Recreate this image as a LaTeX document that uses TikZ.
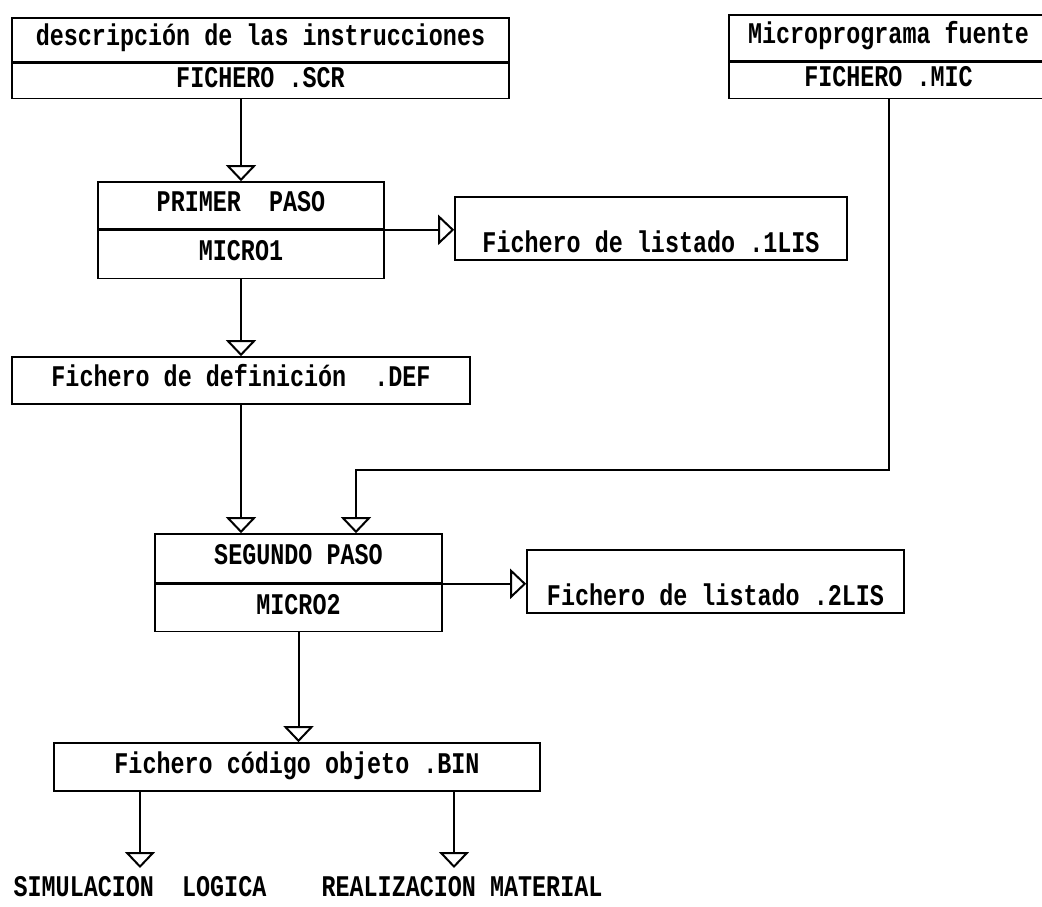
\documentclass[tikz,border=0pt]{standalone}
\usepackage{fontspec}
\setmainfont{Liberation Mono}[FakeStretch=0.78]
\usetikzlibrary{arrows.meta,positioning}

\begin{document}
\begin{tikzpicture}[
  x=1pt, y=-1pt,
  box/.style={draw, line width=1.6pt, inner sep=0pt, text height=17pt, text depth=5pt,
              font=\bfseries\fontsize{30}{32}\selectfont},
  lisbox/.style={box, minimum height=63pt, text height=47pt, text depth=0pt},
  lbl/.style={inner sep=0pt, outer ysep=9pt, anchor=north, text height=19pt, text depth=0pt,
              font=\bfseries\fontsize{30}{32}\selectfont},
  arr/.style={-{Triangle[open, width=30pt, length=16pt]}, line width=2pt}
]
  \useasboundingbox (0,0) rectangle (1042,907);
  % sources
  \node[box, minimum width=497pt, minimum height=44pt] (desc) at (260.5,40) {descripción de las instrucciones};
  \node[box, minimum width=497pt, minimum height=35pt, below=0pt of desc] (scr) {FICHERO .SCR};
  \node[box, minimum width=319pt, minimum height=46pt] (mprog) at (888.5,38) {Microprograma fuente};
  \node[box, minimum width=319pt, minimum height=36pt, below=0pt of mprog] (mic) {FICHERO .MIC};
  % first pass
  \node[box, minimum width=286pt, minimum height=47pt] (primer) at (241,205.5) {PRIMER\ \ PASO};
  \node[box, minimum width=286pt, minimum height=48pt, below=0pt of primer] (micro1) {MICRO1};
  \node[lisbox, minimum width=392pt] (lis1) at (651,228.5) {Fichero de listado .1LIS};
  \node[box, minimum width=458pt, minimum height=47pt] (def) at (241,380.5) {Fichero de definición\ \ .DEF};
  % second pass
  \node[box, minimum width=287pt, minimum height=49pt] (segundo) at (298.5,558.5) {SEGUNDO PASO};
  \node[box, minimum width=287pt, minimum height=47pt, below=0pt of segundo] (micro2) {MICRO2};
  \node[lisbox, minimum width=377pt] (lis2) at (715.5,581.5) {Fichero de listado .2LIS};
  \node[box, minimum width=486pt, minimum height=48pt] (bin) at (297,767) {Fichero código objeto .BIN};
  \node[lbl] (sim) at (140,868) {SIMULACION\ \ LOGICA};
  \node[lbl] (real) at (462,868) {REALIZACION MATERIAL};
  \coordinate (join) at (356,470);

  \draw[arr] (primer.north |- scr.south) -- (primer.north);
  \draw[arr] (micro1.north east) -- (micro1.north east -| lis1.west);
  \draw[arr] (micro1.south) -- (def.north);
  \draw[arr] (def.south) -- (def.south |- segundo.north);
  \draw[arr] (mic.south) |- (join) -- (join |- segundo.north);
  \draw[arr] (micro2.north east) -- (micro2.north east -| lis2.west);
  \draw[arr] (micro2.south) -- (micro2.south |- bin.north);
  \draw[arr] (sim.north |- bin.south) -- (sim.north);
  \draw[arr] (bin.south -| 454,0) -- (454,868);
\end{tikzpicture}
\end{document}
